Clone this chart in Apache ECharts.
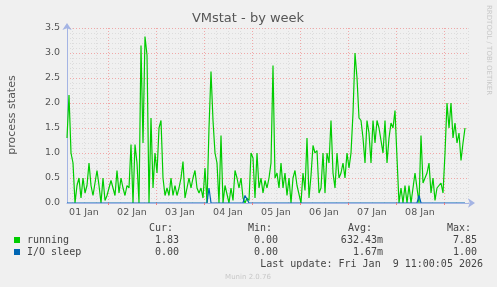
<!DOCTYPE html>
<html><head><meta charset="utf-8">
<script src="https://cdn.jsdelivr.net/npm/echarts@6/dist/echarts.min.js"></script>
<style>html,body{margin:0;padding:0;background:#f0f0f0}#c{width:497px;height:287px}</style>
</head><body><div id="c"></div>
<script>
// hours since 01 Jan 00:00, one sample per hour
const startHour = 3.5;
const stepHours = 1;
const runningValues = [
1.3,2.16,1.0,0.8,0,0.35,0.5,0.1,0.5,0.2,
0.35,0.8,0.35,0.15,0.15,0.65,0.35,0,0.5,0.05,
0.15,0.15,0.45,0.3,0.15,0.65,0.2,0.5,0.3,0.15,
0.35,0.3,1.17,0,1.17,0.8,0,3.15,1.2,3.33,
2.96,0,1.7,0.3,1.0,0.6,1.5,1.65,0.5,0.15,
0.3,0.15,0.5,0.15,0.35,0.15,0.3,0.5,0.83,0.1,
0.3,0.5,0.3,0.5,0.65,0.3,0.2,0.3,0.1,0.7,
0,1.5,2.63,1.65,1.0,0.8,0,1.35,0,0.35,
0.35,0,0.3,0.05,0.65,0.5,0.3,0.5,0.1,0,
0.1,0.05,1.0,0.9,0.1,1.0,0.3,0.5,0.2,0.45,
0.3,0.5,0.8,2.75,0.5,0.6,0.3,0.8,0.3,0.6,
0.15,0.5,0,0.5,0.65,0.35,0.35,0,0.6,0.25,
1.3,0.1,0.55,1.15,1.0,1.05,0.2,0.3,1.0,0.2,
1.0,0.8,1.65,0.6,0.3,1.0,0.5,0.6,0.8,0.5,
1.0,0.7,1.0,1.8,3.0,2.5,1.7,1.65,1.3,0.8,
1.65,1.4,0.8,1.65,1.2,1.65,1.5,1.5,1.0,1.65,
0.8,1.3,1.6,1.5,1.85,0.9,0,0.3,0,0.35,
0,0.35,0,0.3,0.6,0.3,0,1.35,0.4,0.5,
0.6,0.8,0.2,0.5,0.05,0.3,0.3,0.4,0.2,1.0,
2.0,1.5,2.0,1.3,1.6,1.2,1.4,0.85,1.2,1.5
];
const ioSleepValues = [
0,0,0,0,0,0,0,0,0,0, 0,0,0,0,0,0,0,0,0,0,
0,0,0,0,0,0,0,0,0,0, 0,0,0,0,0,0,0,0,0,0,
0,0,0,0,0,0,0,0,0,0, 0,0,0,0,0,0,0,0,0,0,
0,0,0,0,0,0,0,0,0,0, 0,0.3,0,0,0,0,0,0,0,0,
0,0,0,0,0,0,0,0,0,0.15, 0.12,0,0,0,0,0,0,0,0,0,
0,0,0,0,0,0,0,0,0,0, 0,0,0,0,0,0,0,0,0,0,
0,0,0,0,0,0,0,0,0,0, 0,0,0,0,0,0,0,0,0,0,
0,0,0,0,0,0,0,0,0,0, 0,0,0,0,0,0,0,0,0,0,
0,0,0,0,0,0,0,0,0,0, 0,0,0,0,0,0,0.15,0,0,0,
0,0,0,0,0,0,0,0,0,0, 0,0,0,0,0,0,0,0,0,0
];
const dayLabels = ['01 Jan','02 Jan','03 Jan','04 Jan','05 Jan','06 Jan','07 Jan','08 Jan'];
const dayLabelHours = [12,36,60,84,108,132,156,180];
const midnightHours = [24,48,72,96,120,144,168,192];
const quarterDayHours = [6,12,18,30,36,42,54,60,66,78,84,90,102,108,114,126,132,138,150,156,162,174,180,186,198,204];
const yTicks = ['0.0','0.5','1.0','1.5','2.0','2.5','3.0','3.5'];
const legendHeaders = ['Cur:','Min:','Avg:','Max:'];
const legendRows = [
  {name:'running', color:'#00cc00', cur:'1.83', min:'0.00', avg:'632.43m', max:'7.85'},
  {name:'I/O sleep', color:'#0066b3', cur:'0.00', min:'0.00', avg:'1.67m', max:'1.00'}
];

const runningData = runningValues.map((v,i)=>[startHour + i*stepHours, v]);
const ioData = ioSleepValues.map((v,i)=>[startHour + i*stepHours, v]);

const chart = echarts.init(document.getElementById('c'), null, {renderer:'canvas'});
const txt = '#555';
const mono = '10px "DejaVu Sans Mono"';
const graphics = [
  {type:'text', x:248, y:19, style:{text:'VMstat - by week', font:'13px "DejaVu Sans"', fill:txt, align:'center', verticalAlign:'middle'}},
  {type:'text', x:12, y:115, rotation:Math.PI/2, style:{text:'process states', font:'11px "DejaVu Sans"', fill:txt, align:'center', verticalAlign:'middle'}},
  {type:'text', x:489, y:5, rotation:-Math.PI/2, style:{text:'RRDTOOL / TOBI OETIKER', font:'7px "DejaVu Sans"', fill:'#c8c8c8', align:'left', verticalAlign:'middle'}},
  {type:'text', x:483, y:264, style:{text:'Last update: Fri Jan  9 11:00:05 2026', font:mono, fill:'#444', align:'right', verticalAlign:'middle'}},
  {type:'text', x:248, y:277, style:{text:'Munin 2.0.76', font:'7px "DejaVu Sans"', fill:'#c8c8c8', align:'center', verticalAlign:'middle'}}
];
[149,248,348,447].forEach((x,k)=>{
  graphics.push({type:'text', x:x, y:228, style:{text:legendHeaders[k], font:mono, fill:'#444', align:'left', verticalAlign:'middle'}});
});
legendRows.forEach((r,k)=>{
  const y = 240 + k*12;
  graphics.push({type:'rect', shape:{x:14, y:y-3, width:6, height:6}, style:{fill:r.color}});
  graphics.push({type:'text', x:27, y:y, style:{text:r.name, font:mono, fill:'#444', align:'left', verticalAlign:'middle'}});
  [[r.cur,179],[r.min,278],[r.avg,383],[r.max,477]].forEach(([t,x])=>{
    graphics.push({type:'text', x:x, y:y, style:{text:t, font:mono, fill:'#444', align:'right', verticalAlign:'middle'}});
  });
});

const vGrid = quarterDayHours.filter(h=>h>3.5 && h<204.5).map(h=>({xAxis:h, lineStyle:{color:'#dcdcdc', type:[1,2], width:1}}))
  .concat(midnightHours.map(h=>({xAxis:h, lineStyle:{color:'#f0a8a8', type:[1,2], width:1}})));

chart.setOption({
  backgroundColor:'#f0f0f0',
  animation:false,
  grid:{left:67, right:28, top:28, bottom:84},
  xAxis:{
    type:'value', min:3.5, max:204.5, z:5,
    axisLine:{show:true, lineStyle:{color:'#a4b4e4', width:1}, symbol:['none','arrow'], symbolSize:[7,7], symbolOffset:[0,6]},
    axisTick:{show:true, customValues:midnightHours, length:2, inside:false, lineStyle:{color:'#f08080'}},
    axisLabel:{customValues:dayLabelHours, formatter:(v)=>dayLabels[dayLabelHours.indexOf(v)], color:txt, fontSize:9.5, fontFamily:'DejaVu Sans', margin:5},
    splitLine:{show:false}
  },
  yAxis:{
    type:'value', min:0, max:3.5, interval:0.5,
    axisLine:{show:true, lineStyle:{color:'#a4b4e4', width:1}, symbol:['none','arrow'], symbolSize:[7,7], symbolOffset:[0,5]},
    axisTick:{show:false},
    axisLabel:{formatter:(v)=>yTicks[Math.round(v*2)], color:txt, fontSize:9.5, fontFamily:'DejaVu Sans', margin:7},
    splitLine:{show:true, lineStyle:{color:'#f0a8a8', type:[1,2], width:1}},
    minorTick:{show:false, splitNumber:5},
    minorSplitLine:{show:true, lineStyle:{color:'#dcdcdc', type:[1,2], width:1}}
  },
  series:[
    {type:'line', data:[], z:0, silent:true, markLine:{z:0, silent:true, symbol:['none','none'], label:{show:false}, animation:false, data:vGrid}},
    {name:'running', type:'line', data:runningData, showSymbol:false, z:2, lineStyle:{color:'#00cc00', width:1.2}, itemStyle:{color:'#00cc00'}},
    {name:'I/O sleep', type:'line', data:ioData, showSymbol:false, z:3, lineStyle:{color:'#0066b3', width:1.2}, itemStyle:{color:'#0066b3'}}
  ],
  graphic:graphics
});
</script></body></html>
